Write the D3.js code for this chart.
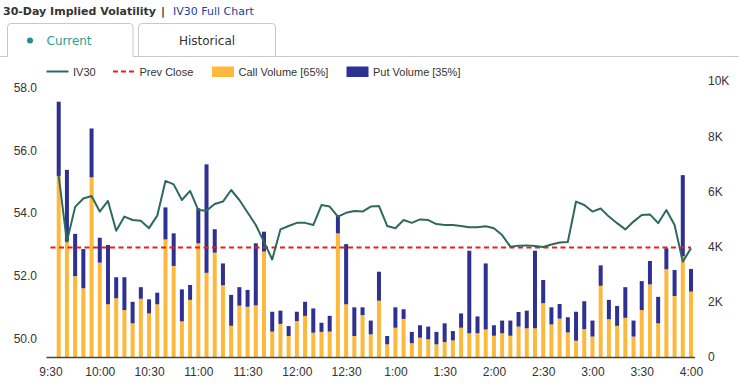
<!DOCTYPE html>
<html>
<head>
<meta charset="utf-8">
<script src="https://cdn.jsdelivr.net/npm/d3@7/dist/d3.min.js"></script>
<style>
    body { margin: 0; background: #fff; }
    svg { display: block; }
</style>
</head>
<body>
<svg id="chart" width="739" height="385"></svg>
<script>
// 5-minute buckets
const times = [
    "9:35", "9:40", "9:45", "9:50", "9:55",
    "10:00", "10:05", "10:10", "10:15", "10:20", "10:25", "10:30", "10:35", "10:40", "10:45", "10:50", "10:55",
    "11:00", "11:05", "11:10", "11:15", "11:20", "11:25", "11:30", "11:35", "11:40", "11:45", "11:50", "11:55",
    "12:00", "12:05", "12:10", "12:15", "12:20", "12:25", "12:30", "12:35", "12:40", "12:45", "12:50", "12:55",
    "1:00", "1:05", "1:10", "1:15", "1:20", "1:25", "1:30", "1:35", "1:40", "1:45", "1:50", "1:55",
    "2:00", "2:05", "2:10", "2:15", "2:20", "2:25", "2:30", "2:35", "2:40", "2:45", "2:50", "2:55",
    "3:00", "3:05", "3:10", "3:15", "3:20", "3:25", "3:30", "3:35", "3:40", "3:45", "3:50", "3:55",
    "4:00"
];

const callVolume = [
    6560, 4180, 2930, 2490, 6510, 3420, 1910, 2130, 1700, 1220,
    2110, 1580, 1910, 4260, 3300, 1290, 2070, 4120, 3050, 3780,
    2600, 1130, 1860, 1820, 1870, 3820, 920, 1200, 760, 1300,
    1490, 880, 910, 920, 4480, 1910, 760, 1520, 820, 2040,
    460, 1060, 1380, 500, 700, 640, 460, 540, 600, 1060,
    860, 860, 1000, 770, 860, 770, 1100, 1040, 1040, 1950,
    1180, 1390, 890, 590, 1010, 740, 2580, 1370, 1130, 1420,
    740, 1700, 2630, 1220, 3180, 2210, 3650, 2370
];

const putVolume = [
    2690, 2600, 1530, 1420, 1770, 900, 2150, 760, 1190, 780,
    420, 510, 420, 1160, 1180, 1160, 540, 1270, 3930, 850,
    790, 1120, 670, 610, 2250, 720, 720, 480, 360, 340,
    510, 880, 330, 570, 660, 2180, 1040, 280, 500, 1050,
    300, 740, 350, 410, 450, 460, 450, 680, 340, 520,
    2990, 610, 2390, 380, 460, 550, 530, 640, 2810, 840,
    620, 530, 550, 1050, 1010, 580, 740, 700, 720, 1110,
    580, 1050, 850, 960, 760, 940, 2940, 820
];

const iv30 = [
    55.18, 53.09, 54.20, 54.47, 54.55, 54.05, 54.39, 53.44, 53.89, 53.78,
    53.76, 53.52, 53.92, 55.03, 54.92, 54.42, 54.71, 54.10, 54.08, 54.29,
    54.37, 54.74, 54.42, 54.02, 53.62, 53.08, 52.52, 53.48, 53.59, 53.69,
    53.69, 53.62, 54.26, 54.21, 53.89, 54.01, 54.07, 54.05, 54.21, 54.23,
    53.59, 53.52, 53.78, 53.69, 53.80, 53.78, 53.65, 53.62, 53.62, 53.59,
    53.55, 53.55, 53.58, 53.52, 53.30, 52.93, 52.96, 52.97, 52.95, 52.92,
    53.00, 53.06, 53.08, 54.37, 54.26, 54.05, 54.15, 53.89, 53.68, 53.48,
    53.73, 53.94, 53.96, 53.68, 54.10, 53.62, 52.45, 52.88
];

const prevClose = 52.9;

const xTickLabels = ["9:30", "10:00", "10:30", "11:00", "11:30", "12:00", "12:30",
    "1:00", "1:30", "2:00", "2:30", "3:00", "3:30", "4:00"];
const leftTicks = [50, 52, 54, 56, 58];
const rightTicks = [0, 2000, 4000, 6000, 8000, 10000];

const legendLabels = ["IV30", "Prev Close", "Call Volume [65%]", "Put Volume [35%]"];

const COLORS = {call: '#fdb93d', put: '#2e3192', iv: '#2e6a5c', prev: '#ee1c1c', text: '#333'};
const AXIS_FONT = '"Liberation Sans", Arial, sans-serif';
const UI_FONT = '"DejaVu Sans", Verdana, sans-serif';

// minutes since 9:30 (afternoon hours are written 1..4)
function toMinutes(t) {
    let [h, m] = t.split(':').map(Number);
    if (h < 9) h += 12;
    return h * 60 + m - 570;
}

const data = times.map((t, i) => ({
    t: toMinutes(t), call: callVolume[i], put: putVolume[i], iv: iv30[i]
}));

const svg = d3.select('#chart');

// ---- header + tabs ----
svg.append('text').attr('x', 3).attr('y', 15)
    .style('font', `bold 11px ${UI_FONT}`).attr('fill', COLORS.text)
    .text('30-Day Implied Volatility');
svg.append('text').attr('x', 161).attr('y', 15)
    .style('font', `bold 11px ${UI_FONT}`).attr('fill', COLORS.text).text('|');
svg.append('text').attr('x', 173).attr('y', 15)
    .style('font', `11px ${UI_FONT}`).attr('fill', '#23409f').text('IV30 Full Chart');

svg.append('path')
    .attr('d', 'M0,56.5 H7.5 V27 Q7.5,23.5 11,23.5 H129.5 Q133,23.5 133,27 V56.5 H739')
    .attr('fill', 'none').attr('stroke', '#c8c8c8');
svg.append('path')
    .attr('d', 'M138.5,56.5 V27 Q138.5,23.5 142,23.5 H272 Q275.5,23.5 275.5,27 V56.5')
    .attr('fill', 'none').attr('stroke', '#c8c8c8');
svg.append('circle').attr('cx', 30).attr('cy', 40.5).attr('r', 3).attr('fill', '#1b918b');
svg.append('text').attr('x', 46.5).attr('y', 45)
    .style('font', `12px ${UI_FONT}`).attr('fill', '#2a9d97').text('Current');
svg.append('text').attr('x', 207).attr('y', 45).attr('text-anchor', 'middle')
    .style('font', `12px ${UI_FONT}`).attr('fill', COLORS.text).text('Historical');

// ---- scales ----
const xScale = d3.scaleLinear().domain([0, 390]).range([50.5, 691]);
const yLeft = d3.scaleLinear().domain([50, 58]).range([338.3, 88]);
const yRight = d3.scaleLinear().domain([0, 10000]).range([357, 81]);
const BAR_W = 4;

// ---- bars ----
const bars = svg.append('g').attr('id', 'bars');
bars.selectAll('rect.call')
    .data(data)
    .join('rect')
    .attr('class', 'call')
    .attr('x', d => xScale(d.t) - BAR_W / 2)
    .attr('y', d => yRight(d.call))
    .attr('width', BAR_W)
    .attr('height', d => yRight(0) - yRight(d.call))
    .attr('fill', COLORS.call);
bars.selectAll('rect.put')
    .data(data)
    .join('rect')
    .attr('class', 'put')
    .attr('x', d => xScale(d.t) - BAR_W / 2)
    .attr('y', d => yRight(d.call + d.put))
    .attr('width', BAR_W)
    .attr('height', d => yRight(d.call) - yRight(d.call + d.put))
    .attr('fill', COLORS.put);

// prev close
svg.append('line')
    .attr('x1', xScale(0)).attr('x2', xScale(390))
    .attr('y1', yLeft(prevClose)).attr('y2', yLeft(prevClose))
    .attr('stroke', COLORS.prev).attr('stroke-width', 2)
    .attr('stroke-dasharray', '5,3.5');

// IV30 line
const line = d3.line().x(d => xScale(d.t)).y(d => yLeft(d.iv));
svg.append('path').datum(data)
    .attr('d', line)
    .attr('fill', 'none')
    .attr('stroke', COLORS.iv)
    .attr('stroke-width', 2)
    .attr('stroke-linejoin', 'round');

// ---- axes ----
let xAxis = d3.axisBottom(xScale)
    .tickValues(xTickLabels.map(toMinutes))
    .tickFormat((d, i) => xTickLabels[i])
    .tickSize(0).tickPadding(10);
const gx = svg.append('g').attr('transform', `translate(0, ${yRight(0)})`).call(xAxis);
gx.select('.domain').remove();
svg.append('line')
    .attr('x1', 46.5).attr('x2', 695).attr('y1', 357.5).attr('y2', 357.5)
    .attr('stroke', '#444').attr('stroke-width', 1.5);

let yAxisL = d3.axisLeft(yLeft).tickValues(leftTicks)
    .tickFormat(d3.format('.1f')).tickSize(0).tickPadding(3);
const gl = svg.append('g').attr('transform', 'translate(40, 0)').call(yAxisL);
gl.select('.domain').remove();

let yAxisR = d3.axisRight(yRight).tickValues(rightTicks)
    .tickFormat(d => d === 0 ? '0' : (d / 1000) + 'K').tickSize(0).tickPadding(3);
const gr = svg.append('g').attr('transform', 'translate(705, 0)').call(yAxisR);
gr.select('.domain').remove();

svg.selectAll('.tick text')
    .style('font-family', AXIS_FONT)
    .style('font-size', '12px')
    .attr('fill', COLORS.text);

// ---- legend ----
const legend = svg.append('g').style('font', `11px ${AXIS_FONT}`);
const legendX = [46.5, 113, 212, 346.5];
legend.append('line').attr('x1', legendX[0]).attr('x2', legendX[0] + 22)
    .attr('y1', 71.5).attr('y2', 71.5).attr('stroke', COLORS.iv).attr('stroke-width', 2);
legend.append('line').attr('x1', legendX[1]).attr('x2', legendX[1] + 22)
    .attr('y1', 71.5).attr('y2', 71.5).attr('stroke', COLORS.prev).attr('stroke-width', 2)
    .attr('stroke-dasharray', '5,3');
legend.append('rect').attr('x', legendX[2]).attr('y', 66.5).attr('width', 22).attr('height', 10.5)
    .attr('fill', COLORS.call);
legend.append('rect').attr('x', legendX[3]).attr('y', 66.5).attr('width', 22).attr('height', 10.5)
    .attr('fill', COLORS.put);
legend.selectAll('text')
    .data(legendLabels)
    .join('text')
    .attr('x', (d, i) => legendX[i] + 26.5)
    .attr('y', 75.5)
    .attr('fill', COLORS.text)
    .text(d => d);
</script>
</body>
</html>
